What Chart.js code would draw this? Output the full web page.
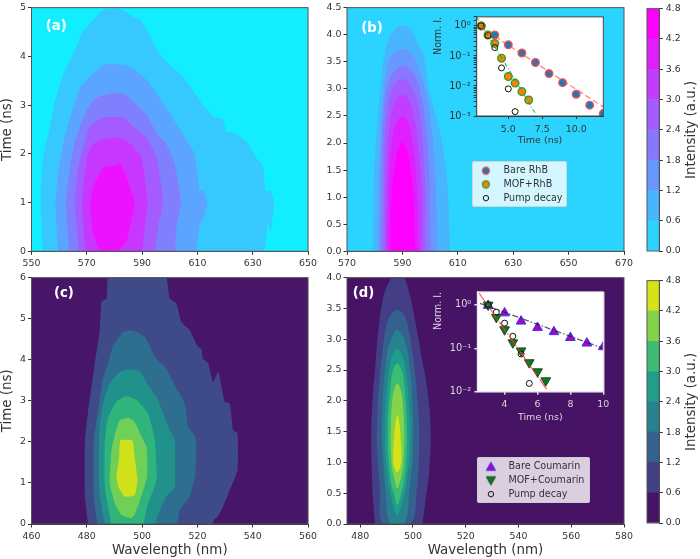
<!DOCTYPE html>
<html>
<head>
<meta charset="utf-8">
<script src="https://cdn.jsdelivr.net/npm/chart.js@4"></script>
<style>
  body { margin: 0; background: #fff; }
  #stage { position: relative; width: 700px; height: 559px; overflow: hidden; }
  canvas { position: absolute; }
  .legend-box { position: absolute; box-sizing: border-box; background: rgba(255,255,255,0.8); border: 1px solid rgba(204,204,204,0.8); border-radius: 2px; }
</style>
</head>
<body>
<div id="stage"></div>
<script>
// axis ticks
const ticksXA = [550, 570, 590, 610, 630, 650];
const ticksYA = [0, 1, 2, 3, 4, 5];
const ticksXB = [570, 590, 610, 630, 650, 670];
const ticksYB = [0, 0.5, 1, 1.5, 2, 2.5, 3, 3.5, 4, 4.5];
const ticksXC = [460, 480, 500, 520, 540, 560];
const ticksYC = [0, 1, 2, 3, 4, 5, 6];
const ticksXD = [480, 500, 520, 540, 560, 580];
const ticksYD = [0, 0.5, 1, 1.5, 2, 2.5, 3, 3.5, 4];
const ticksBar = [0, 0.6, 1.2, 1.8, 2.4, 3, 3.6, 4.2, 4.8];
const barBands = [0.6, 0.6, 0.6, 0.6, 0.6, 0.6, 0.6, 0.6];

// band colours (lowest band first)
const coolA = ['#12edff', '#37c8ff', '#5ba4ff', '#8080ff', '#a45bff', '#c837ff', '#ed12ff'];
const coolB = ['#2bd4ff', '#4ab5ff', '#6897ff', '#8778ff', '#a35cff', '#c23dff', '#e01fff', '#ff00ff'];
const viridisC = ['#471669', '#3f4a89', '#2e6e8e', '#21918c', '#2fb47c', '#70cf57', '#d0e11c'];
const viridisD = ['#471365', '#433e85', '#34618d', '#26828e', '#1f9e89', '#3dbc74', '#84d44b', '#d8e219'];

// contour outlines: [wavelength nm, time ns]
const contourA1 = [[554.1,0],[553.3,1],[554.2,1.92],[556.6,2.53],[558.4,3.07],[561.4,3.61],[564.5,3.98],[566.9,4.29],[568,4.46],[571,4.66],[574.7,4.9],[577.7,4.98],[582.5,4.97],[586,4.83],[589.2,4.76],[592.2,4.49],[595.8,4.1],[600,3.82],[603.6,3.65],[608.4,3.31],[612,3],[615.7,2.77],[619.3,2.7],[620.5,2.46],[622.9,2.43],[627.7,2.26],[631.3,1.92],[633.7,1.75],[634.6,1.24],[636.4,1.24],[637.7,1],[636.4,0.37],[635.5,0.6],[634.3,0]];
const contourA2 = [[559.6,0],[558.7,1],[559.6,1.58],[561.4,2.19],[563.9,2.73],[567.5,3.34],[571,3.58],[575.9,3.82],[580.7,3.84],[584.9,3.8],[589.2,3.65],[592.2,3.48],[596.4,3.14],[600,2.83],[603.6,2.5],[609,2],[610.8,1.24],[612.3,1.24],[613.5,1],[612.3,0.7],[610.8,0.53],[609.6,0]];
const contourA3 = [[563.6,0],[562.4,1],[563.9,1.72],[565.7,2.26],[568.7,2.73],[571,3],[574.1,3.17],[578.3,3.24],[583.7,3.23],[588,3],[591.6,2.8],[595.2,2.43],[598.8,2.19],[601.8,1.79],[604.1,1],[602.4,0.5],[602,0]];
const contourA4 = [[567.2,0],[565.7,1],[566.9,1.72],[568.7,2.12],[571,2.56],[575.9,2.75],[583.1,2.75],[586.7,2.56],[591.6,2.33],[595.2,1.92],[597.6,1.04],[595.8,0.5],[594.6,0]];
const contourA5 = [[569.6,0],[568.3,1],[570.4,2],[572.9,2.23],[577.1,2.31],[581.9,2.33],[586.1,2.19],[589.8,1.92],[591.9,1],[590.4,0.23],[590.1,0]];
const contourA6 = [[574.7,0],[572.3,0.37],[571.3,1],[572.9,1.41],[576.5,1.75],[579.5,1.74],[581.9,1.81],[584.9,1.44],[587.3,1],[586.1,0.63],[584.3,0.2],[581.3,0]];
const contourB1 = [[579.5,0],[579.6,1],[580,1.7],[581,2.4],[582,3],[583.4,3.6],[585,3.9],[587,4.08],[590,4.17],[593.4,4.08],[595,3.9],[597.8,3.6],[599.5,3],[602,2.5],[604,2.1],[605.8,1.5],[606.7,0.8],[607.2,0]];
const contourB2 = [[581.3,0],[581.6,1.49],[582.5,2.4],[583.4,3.01],[584.3,3.31],[585.5,3.56],[587.7,3.68],[590,3.74],[592.5,3.68],[594.6,3.56],[596.4,3.31],[598.2,3.01],[600.2,2.4],[601.8,1.49],[602.6,0]];
const contourB3 = [[582.2,0],[582.5,1.49],[583.1,2.4],[584.1,2.89],[585.5,3.19],[587.4,3.34],[590,3.42],[592.8,3.34],[594.9,3.19],[596.7,2.89],[598.2,2.4],[599.6,1.49],[600.2,0]];
const contourB4 = [[583.1,0],[583.4,1.18],[583.7,2.1],[584.7,2.64],[585.9,2.95],[587.4,3.1],[590,3.18],[592.5,3.1],[594.2,2.95],[595.8,2.64],[597.2,2.1],[598.2,1.18],[598.4,0]];
const contourB5 = [[584,0],[584.1,1.18],[584.9,2.1],[586.1,2.58],[587.7,2.8],[590,2.89],[592.2,2.8],[593.7,2.58],[595.4,2.1],[597,1.18],[597.2,0]];
const contourB6 = [[584.6,0],[585.3,1.49],[586.5,2.1],[588,2.4],[590,2.49],[591.8,2.4],[593.4,2.1],[594.9,1.49],[596.1,0]];
const contourB7 = [[585.8,0],[586.1,1],[587.4,1.61],[588.6,1.91],[590,2.02],[591.3,1.91],[592.8,1.61],[594,1],[594.6,0]];
const contourC1 = [[480.5,0],[479.3,0.67],[479.3,1.96],[480.5,2.77],[482.9,3.91],[484.7,4.72],[485.3,5.41],[487.1,5.49],[488.1,6.1],[508.2,6.1],[510,5.49],[512.4,5.37],[514.2,4.92],[517.2,4.72],[520.2,4.31],[521.4,4.27],[522,4.03],[523.9,3.91],[525.7,3.46],[527.5,3.71],[529.9,2.98],[531.7,2.94],[532.9,2.29],[534.5,2.21],[534.5,1.31],[531.7,0.83],[528.7,0.34],[526.9,0.14],[526.3,0.14],[525.4,0]];
const contourC2 = [[483.9,0],[482.5,0.67],[482.5,2.04],[484.1,2.77],[485.9,3.58],[487.7,3.91],[489.5,4.36],[491.3,4.52],[493.1,4.68],[496.1,4.72],[501,4.56],[504.6,4.07],[508.2,3.83],[511.8,3.38],[515.4,2.94],[516.6,2.37],[519.3,2.12],[519.3,1.23],[517.2,0.67],[513.6,0.34],[512.8,0]];
const contourC3 = [[486.5,0],[484.5,0.83],[484.5,2.29],[485.9,2.94],[488.3,3.42],[491.9,3.71],[494.9,3.76],[499.2,3.71],[502.2,3.38],[505.8,3.02],[507.6,2.69],[510,2.29],[511.8,2.04],[511.8,0.91],[508.8,0.67],[506.4,0.34],[504.6,0]];
const contourC4 = [[488.9,0],[486.5,0.91],[486.5,1.96],[487.7,2.61],[490.7,2.98],[494.3,3.12],[498,3.02],[502.2,2.69],[504.6,2.04],[505.2,1.07],[502.2,0.5],[500.4,0]];
const contourC5 = [[496.1,0.14],[492.5,0.22],[490.1,0.5],[488.3,0.99],[488.9,1.8],[490.1,2.17],[491.9,2.53],[494.9,2.59],[497.3,2.49],[499.8,2.12],[501.6,1.88],[501.8,1.15],[499.2,0.58],[497.3,0.22]];
const contourC6 = [[490.7,1.15],[491.7,1.64],[492.2,2.04],[496.5,2.03],[497.3,1.64],[498.3,1.07],[497.3,0.7],[493.7,0.67],[491.3,0.91]];
const contourD1 = [[485.6,0],[484.6,0.6],[484.2,1.42],[484.6,1.96],[485.6,2.5],[486.9,3.15],[488.8,3.69],[491.3,3.96],[492.6,4.05],[495.7,4.05],[498.3,3.8],[500.8,3.31],[503.3,2.71],[505.5,2.17],[506.7,1.52],[506.2,0.88],[504.6,0.34],[503.6,0]];
const contourD2 = [[486.2,1.34],[486.6,1.88],[488.1,2.69],[490,3.23],[491.9,3.42],[494,3.47],[496.3,3.42],[498,3.23],[500.1,2.69],[502,1.88],[502.4,1.34],[501.4,0.52],[498.9,0],[488.7,0],[487.5,0.52],[486.2,1.34]];
const contourD3 = [[488.1,1.34],[488.7,2.15],[490.3,2.79],[492.3,3.06],[494,3.15],[496.1,3.06],[498,2.79],[499.5,2.15],[500.1,1.34],[498.6,0.52],[496.6,0],[491.5,0],[489.7,0.52],[488.1,1.34]];
const contourD4 = [[489.4,1.23],[489.7,1.88],[491,2.52],[492.5,2.77],[494,2.85],[495.6,2.77],[497.2,2.52],[498.6,1.88],[498.9,1.23],[497.6,0.69],[495.7,0.31],[494,0.15],[492.5,0.31],[490.6,0.69],[489.4,1.23]];
const contourD5 = [[490.5,1.17],[490.6,1.71],[491.5,2.25],[492.5,2.5],[494,2.6],[495.7,2.5],[496.7,2.25],[497.6,1.71],[497.7,1.17],[496.6,0.69],[495.1,0.42],[494,0.31],[493.2,0.42],[491.6,0.69],[490.5,1.17]];
const contourD6 = [[491.5,1.34],[491.9,1.88],[492.8,2.17],[494,2.28],[495.4,2.17],[496.3,1.88],[496.7,1.34],[496.1,0.9],[495.1,0.69],[494,0.58],[493.2,0.69],[492.1,0.9],[491.5,1.34]];
const contourD7 = [[492.7,1.34],[493.3,1.61],[494.1,1.77],[494.9,1.61],[495.4,1.34],[495.6,1.01],[494.8,0.88],[494,0.84],[493.3,0.88],[492.5,1.01],[492.7,1.34]];

// inset (b)
const insetBTime = [3, 4, 5, 6, 7, 8, 9, 10, 11, 12];
const bareRhB = [1.0, 0.5, 0.234, 0.125, 0.0607, 0.0258, 0.0129, 0.0053, 0.0023, 0.0012];
const mofTimeB = [3, 3.5, 4, 4.5, 5, 5.5, 6, 6.5];
const mofRhB = [1.0, 0.5, 0.26, 0.084, 0.0206, 0.0125, 0.0065, 0.0034];
const pumpTimeB = [3, 3.5, 4, 4.5, 5, 5.5];
const pumpB = [1.0, 0.48, 0.19, 0.04, 0.008, 0.0014];
const fitBareRhBX = [2.9, 12];
const fitBareRhBY = [0.95, 0.002];
const fitMofRhBX = [2.67, 6.97];
const fitMofRhBY = [1.97, 0.00128];
const insetBTicksX = [5, 7.5, 10];
const insetBTicksY = [1, 0.1, 0.01, 0.001];
const insetBLabelsY = ['10⁰', '10⁻¹', '10⁻²', '10⁻³'];
const legendB = ['Bare RhB', 'MOF+RhB', 'Pump decay'];

// inset (d)
const insetDTime = [3, 4, 5, 6, 7, 8, 9, 10];
const bareCoumarin = [0.97, 0.65, 0.42, 0.30, 0.24, 0.176, 0.131, 0.108];
const mofTimeD = [3, 3.5, 4, 4.5, 5, 5.5, 6, 6.5];
const mofCoumarin = [1.0, 0.52, 0.27, 0.135, 0.088, 0.047, 0.029, 0.018];
const pumpTimeD = [3, 3.5, 4, 4.5, 5, 5.5];
const pumpD = [1.0, 0.68, 0.38, 0.19, 0.074, 0.0155];
const fitBareCouX = [2.5, 10];
const fitBareCouY = [1.09, 0.1];
const fitMofCouX = [2.46, 6.59];
const fitMofCouY = [1.84, 0.0109];
const insetDTicksX = [4, 6, 8, 10];
const insetDTicksY = [1, 0.1, 0.01];
const insetDLabelsY = ['10⁰', '10⁻¹', '10⁻²'];
const legendD = ['Bare Coumarin', 'MOF+Coumarin', 'Pump decay'];

const FONT = "'DejaVu Sans', sans-serif";
const INK = '#333';
const stage = document.getElementById('stage');

function addCanvas(left, top, w, h, z) {
    const c = document.createElement('canvas');
    c.width = w;
    c.height = h;
    c.style.left = left + 'px';
    c.style.top = top + 'px';
    c.style.zIndex = z;
    stage.appendChild(c);
    return c;
}

const toPoints = (xs, ys) => xs.map((x, i) => ({ x: x, y: ys[i] }));
const fixedTicks = values => scale => { scale.ticks = values.map(v => ({ value: v })); };

// fondo, marco y etiqueta del panel
function framePlugin(bg, edge, tag) {
    return {
        id: 'frame',
        beforeDatasetsDraw(chart) {
            const a = chart.chartArea;
            chart.ctx.fillStyle = bg;
            chart.ctx.fillRect(a.left, a.top, a.width, a.height);
        },
        afterDatasetsDraw(chart) {
            const a = chart.chartArea, ctx = chart.ctx;
            ctx.save();
            ctx.strokeStyle = edge;
            ctx.lineWidth = 1;
            ctx.strokeRect(a.left, a.top, a.width, a.height);
            if (tag) {
                ctx.fillStyle = '#fff';
                ctx.font = 'bold 13.2px ' + FONT;
                ctx.textBaseline = 'middle';
                ctx.fillText(tag.text, a.left + tag.dx, a.top + tag.dy);
            }
            ctx.restore();
        }
    };
}

function drawPanel(cfg) {
    const canvas = addCanvas(cfg.left, cfg.top, cfg.width, cfg.height, 1);
    const datasets = cfg.contours.map((c, k) => ({
        data: c.map(p => ({ x: p[0], y: p[1] })),
        showLine: true,
        fill: 'shape',
        tension: cfg.tension,
        borderWidth: 0,
        pointRadius: 0,
        backgroundColor: cfg.colors[k + 1],
        order: cfg.contours.length - k
    }));
    new Chart(canvas, {
        type: 'scatter',
        data: { datasets },
        options: {
            responsive: false,
            animation: false,
            layout: { padding: { top: cfg.areaTop - cfg.top, right: cfg.left + cfg.width - cfg.areaRight, left: 0, bottom: 0 } },
            plugins: { legend: { display: false }, tooltip: { enabled: false } },
            scales: {
                x: {
                    type: 'linear', min: cfg.ticksX[0] === 480 ? 475 : cfg.ticksX[0], max: cfg.ticksX[cfg.ticksX.length - 1],
                    afterBuildTicks: fixedTicks(cfg.ticksX),
                    afterFit: s => { s.height = cfg.top + cfg.height - cfg.areaBottom; },
                    grid: { drawOnChartArea: false, tickLength: 3.5, tickColor: INK },
                    border: { color: INK },
                    ticks: { color: INK, font: { family: FONT, size: 9.4 }, padding: 3, maxRotation: 0, autoSkip: false },
                    title: { display: !!cfg.titleX, text: cfg.titleX, color: INK, font: { family: FONT, size: 13.4 }, padding: { top: 0, bottom: 0 } }
                },
                y: {
                    type: 'linear', min: 0, max: cfg.ticksY[cfg.ticksY.length - 1],
                    afterBuildTicks: fixedTicks(cfg.ticksY),
                    afterFit: s => { s.width = cfg.areaLeft - cfg.left; },
                    grid: { drawOnChartArea: false, tickLength: 3.5, tickColor: INK },
                    border: { color: INK },
                    ticks: { color: INK, font: { family: FONT, size: 9.4 }, padding: 2, autoSkip: false, callback: v => v.toFixed(cfg.digitsY) },
                    title: { display: !!cfg.titleY, text: cfg.titleY, color: INK, font: { family: FONT, size: 13.4 }, padding: { top: -1, bottom: 0 } }
                }
            }
        },
        plugins: [framePlugin(cfg.colors[0], '#555', cfg.tag)]
    });
}

function drawColorbar(colors, top, bottom) {
    const canvas = addCanvas(640, top - 5, 60, bottom - top + 22, 1);
    new Chart(canvas, {
        type: 'bar',
        data: {
            labels: [''],
            datasets: barBands.map((v, i) => ({ data: [v], backgroundColor: colors[i], borderWidth: 0, barPercentage: 1, categoryPercentage: 1 }))
        },
        options: {
            responsive: false,
            animation: false,
            layout: { padding: { left: 7, top: 5, bottom: 17 } },
            plugins: { legend: { display: false }, tooltip: { enabled: false } },
            scales: {
                x: { stacked: true, display: false },
                y: {
                    stacked: true, position: 'right', min: 0, max: 4.8,
                    afterBuildTicks: fixedTicks(ticksBar),
                    afterFit: s => { s.width = 40.7; },
                    grid: { drawOnChartArea: false, tickLength: 3.5, tickColor: INK },
                    border: { color: INK },
                    ticks: { color: INK, font: { family: FONT, size: 9.4 }, padding: 3, autoSkip: false, callback: v => v.toFixed(1) }
                }
            }
        },
        plugins: [{
            id: 'barFrame',
            afterDatasetsDraw(chart) {
                const a = chart.chartArea, ctx = chart.ctx;
                ctx.save();
                ctx.strokeStyle = '#555';
                ctx.strokeRect(a.left, a.top, a.width, a.height);
                ctx.translate(51.7, (a.top + a.bottom) / 2);
                ctx.rotate(-Math.PI / 2);
                ctx.fillStyle = INK;
                ctx.font = '13.4px ' + FONT;
                ctx.textAlign = 'center';
                ctx.textBaseline = 'middle';
                ctx.fillText('Intensity (a.u.)', 0, 0);
                ctx.restore();
            }
        }]
    });
}

function drawInset(cfg) {
    const canvas = addCanvas(cfg.left, cfg.top, cfg.width, cfg.height, 2);
    const isMajor = v => cfg.ticksY.some(m => Math.abs(m - v) < m * 1e-6);
    new Chart(canvas, {
        type: 'scatter',
        data: { datasets: cfg.datasets },
        options: {
            responsive: false,
            animation: false,
            layout: { padding: { top: cfg.areaTop - cfg.top, right: cfg.left + cfg.width - cfg.areaRight } },
            plugins: { legend: { display: false }, tooltip: { enabled: false } },
            scales: {
                x: {
                    type: 'linear', min: cfg.minX, max: cfg.maxX,
                    afterBuildTicks: fixedTicks(cfg.ticksX),
                    afterFit: s => { s.height = cfg.top + cfg.height - cfg.areaBottom; },
                    grid: { color: cfg.gridColor, lineWidth: cfg.gridWidth, tickLength: 3, tickColor: cfg.ink },
                    border: { color: cfg.ink },
                    ticks: { color: cfg.ink, font: { family: FONT, size: 9.4 }, padding: 4.5, maxRotation: 0, autoSkip: false, callback: v => v.toFixed(cfg.digitsX) },
                    title: { display: true, text: 'Time (ns)', color: cfg.ink, font: { family: FONT, size: 9.5 }, padding: { top: 0, bottom: cfg.titleGap } }
                },
                y: {
                    type: 'logarithmic', min: cfg.minY, max: 2,
                    afterFit: s => { s.width = cfg.areaLeft - cfg.left; },
                    grid: {
                        color: c => (c.tick && isMajor(c.tick.value)) ? cfg.gridColor : 'rgba(0,0,0,0)',
                        lineWidth: cfg.gridWidth,
                        tickLength: 3,
                        tickColor: c => (c.tick && (isMajor(c.tick.value) || cfg.minorTicks)) ? cfg.ink : 'rgba(0,0,0,0)'
                    },
                    border: { color: cfg.ink },
                    ticks: {
                        color: cfg.ink, font: { family: FONT, size: 9.8 }, padding: 3, autoSkip: false,
                        callback: v => {
                            const i = cfg.ticksY.findIndex(m => Math.abs(m - v) < m * 1e-6);
                            return i < 0 ? '' : cfg.labelsY[i];
                        }
                    },
                    title: { display: true, text: 'Norm. I.', align: 'end', color: cfg.ink, font: { family: FONT, size: 9.6 }, padding: { top: 3, bottom: 0 } }
                }
            }
        },
        plugins: [framePlugin('#fff', cfg.edge, null)]
    });
}

// marcador dibujado en un canvas para la leyenda
function makeMarker(shape, fill, edge, r, lw) {
    const m = document.createElement('canvas');
    m.width = 14;
    m.height = 14;
    const ctx = m.getContext('2d');
    ctx.fillStyle = fill;
    ctx.strokeStyle = edge;
    ctx.lineWidth = lw;
    ctx.beginPath();
    if (shape === 'circle') {
        ctx.arc(7, 7, r, 0, Math.PI * 2);
    } else {
        const s = shape === 'up' ? 1 : -1;
        ctx.moveTo(7, 7 - s * r);
        ctx.lineTo(7 + r, 7 + s * r * 0.8);
        ctx.lineTo(7 - r, 7 + s * r * 0.8);
        ctx.closePath();
    }
    if (fill) ctx.fill();
    ctx.stroke();
    return m;
}

function drawLegend(left, top, w, h, names, markers) {
    const box = document.createElement('div');
    box.className = 'legend-box';
    box.style.cssText = `left:${left}px;top:${top}px;width:${w}px;height:${h}px;z-index:2`;
    stage.appendChild(box);
    const canvas = addCanvas(left - 3, top, w + 6, h + 6, 3);
    new Chart(canvas, {
        type: 'scatter',
        data: { datasets: names.map((n, i) => ({ label: n, data: [], pointStyle: markers[i] })) },
        options: {
            responsive: false,
            animation: false,
            layout: { padding: { top: 0.8 } },
            scales: { x: { display: false }, y: { display: false } },
            plugins: {
                tooltip: { enabled: false },
                legend: {
                    position: 'left', align: 'start', maxWidth: w + 6,
                    labels: { usePointStyle: true, pointStyleWidth: 25.6, padding: 4.1, color: INK, font: { family: FONT, size: 9.6 } }
                }
            }
        }
    });
}

const markerSet = (label, xs, ys, style) => Object.assign({ label, data: toPoints(xs, ys), clip: 0 }, style);
const fitLine = (xs, ys, color, dash, w) => ({ data: toPoints(xs, ys), showLine: true, pointRadius: 0, borderColor: color, borderDash: dash, borderWidth: w, fill: false, tension: 0 });

drawPanel({
    left: 0, top: 0, width: 320, height: 270,
    areaLeft: 31.5, areaRight: 308.3, areaTop: 5, areaBottom: 251.3,
    ticksX: ticksXA, ticksY: ticksYA, digitsY: 0, titleY: 'Time (ns)', tension: 0.15,
    colors: coolA, contours: [contourA1, contourA2, contourA3, contourA4, contourA5, contourA6],
    tag: { text: '(a)', dx: 14.2, dy: 19 }
});
drawPanel({
    left: 320, top: 0, width: 320, height: 270,
    areaLeft: 347, areaRight: 624, areaTop: 5, areaBottom: 251.3,
    ticksX: ticksXB, ticksY: ticksYB, digitsY: 1, tension: 0.4,
    colors: coolB, contours: [contourB1, contourB2, contourB3, contourB4, contourB5, contourB6, contourB7],
    tag: { text: '(b)', dx: 14.3, dy: 21 }
});
drawPanel({
    left: 0, top: 270, width: 320, height: 289,
    areaLeft: 31.5, areaRight: 308.3, areaTop: 277.3, areaBottom: 524,
    ticksX: ticksXC, ticksY: ticksYC, digitsY: 0, titleX: 'Wavelength (nm)', titleY: 'Time (ns)', tension: 0.15,
    colors: viridisC, contours: [contourC1, contourC2, contourC3, contourC4, contourC5, contourC6],
    tag: { text: '(c)', dx: 22.5, dy: 16 }
});
drawPanel({
    left: 320, top: 270, width: 320, height: 289,
    areaLeft: 347, areaRight: 624, areaTop: 277.3, areaBottom: 524,
    ticksX: ticksXD, ticksY: ticksYD, digitsY: 1, titleX: 'Wavelength (nm)', tension: 0.4,
    colors: viridisD, contours: [contourD1, contourD2, contourD3, contourD4, contourD5, contourD6, contourD7],
    tag: { text: '(d)', dx: 5.7, dy: 16 }
});

drawColorbar(coolB, 5, 251.3);
drawColorbar(viridisD, 277.3, 524);

const bluePoint = { pointRadius: 3.8, pointBorderWidth: 1.4, pointBackgroundColor: '#1f77b4', pointBorderColor: '#f0525a' };
const orangePoint = { pointRadius: 3.8, pointBorderWidth: 1.4, pointBackgroundColor: '#ff7f0e', pointBorderColor: '#2ca02c' };
const openPoint = { pointRadius: 3, pointBorderWidth: 1, pointBackgroundColor: 'rgba(0,0,0,0)', pointBorderColor: '#111' };

drawInset({
    left: 430, top: 8, width: 185, height: 142,
    areaLeft: 476.7, areaRight: 603.3, areaTop: 15, areaBottom: 116, titleGap: 4,
    minX: 2.67, maxX: 12, minY: 0.001, digitsX: 1,
    ticksX: insetBTicksX, ticksY: insetBTicksY, labelsY: insetBLabelsY,
    ink: INK, edge: '#444', gridColor: '#b5b5b5', gridWidth: 1, minorTicks: true,
    datasets: [
        markerSet(legendB[2], pumpTimeB, pumpB, Object.assign({ order: 1 }, openPoint)),
        markerSet(legendB[1], mofTimeB, mofRhB, Object.assign({ order: 2 }, orangePoint)),
        markerSet(legendB[0], insetBTime, bareRhB, Object.assign({ order: 3 }, bluePoint)),
        Object.assign(fitLine(fitBareRhBX, fitBareRhBY, 'rgba(255,60,60,0.6)', [6, 3], 1.4), { order: 0 }),
        Object.assign(fitLine(fitMofRhBX, fitMofRhBY, 'rgba(44,160,44,0.8)', [4, 2, 1, 2], 1.2), { order: 0 })
    ]
});

const upPoint = { pointStyle: 'triangle', pointRadius: 5.6, pointBorderWidth: 1, pointBackgroundColor: '#b000c8', pointBorderColor: '#2a3cf0' };
const downPoint = { pointStyle: 'triangle', pointRotation: 180, pointRadius: 5.6, pointBorderWidth: 1, pointBackgroundColor: '#0c7a1e', pointBorderColor: '#1c4a24' };

drawInset({
    left: 430, top: 283, width: 185, height: 142,
    areaLeft: 477.3, areaRight: 603.3, areaTop: 290.7, areaBottom: 391.7, titleGap: 2,
    minX: 2.34, maxX: 10, minY: 0.01, digitsX: 0,
    ticksX: insetDTicksX, ticksY: insetDTicksY, labelsY: insetDLabelsY,
    ink: '#ddd6e4', edge: '#e8e4ee', gridColor: '#d0d0d0', gridWidth: 1.5, minorTicks: false,
    datasets: [
        markerSet(legendD[2], pumpTimeD, pumpD, Object.assign({ order: 1 }, openPoint)),
        markerSet(legendD[1], mofTimeD, mofCoumarin, Object.assign({ order: 2 }, downPoint)),
        markerSet(legendD[0], insetDTime, bareCoumarin, Object.assign({ order: 3 }, upPoint)),
        Object.assign(fitLine(fitBareCouX, fitBareCouY, 'rgba(30,30,30,0.7)', [6, 2, 1.5, 2], 1.3), { order: 0 }),
        Object.assign(fitLine(fitMofCouX, fitMofCouY, 'rgba(255,50,50,0.8)', [12, 2, 1.5, 2], 1.2), { order: 0 })
    ]
});

drawLegend(471.7, 161, 95.3, 46.3, legendB, [
    makeMarker('circle', '#1f77b4', '#f0525a', 3.5, 1.3),
    makeMarker('circle', '#ff7f0e', '#2ca02c', 3.5, 1.3),
    makeMarker('circle', null, '#111', 2.7, 1)
]);
drawLegend(477, 457, 113, 46.3, legendD, [
    makeMarker('up', '#b000c8', '#2a3cf0', 4.6, 1),
    makeMarker('down', '#0c7a1e', '#1c4a24', 4.6, 1),
    makeMarker('circle', null, '#111', 2.7, 1)
]);
</script>
</body>
</html>
